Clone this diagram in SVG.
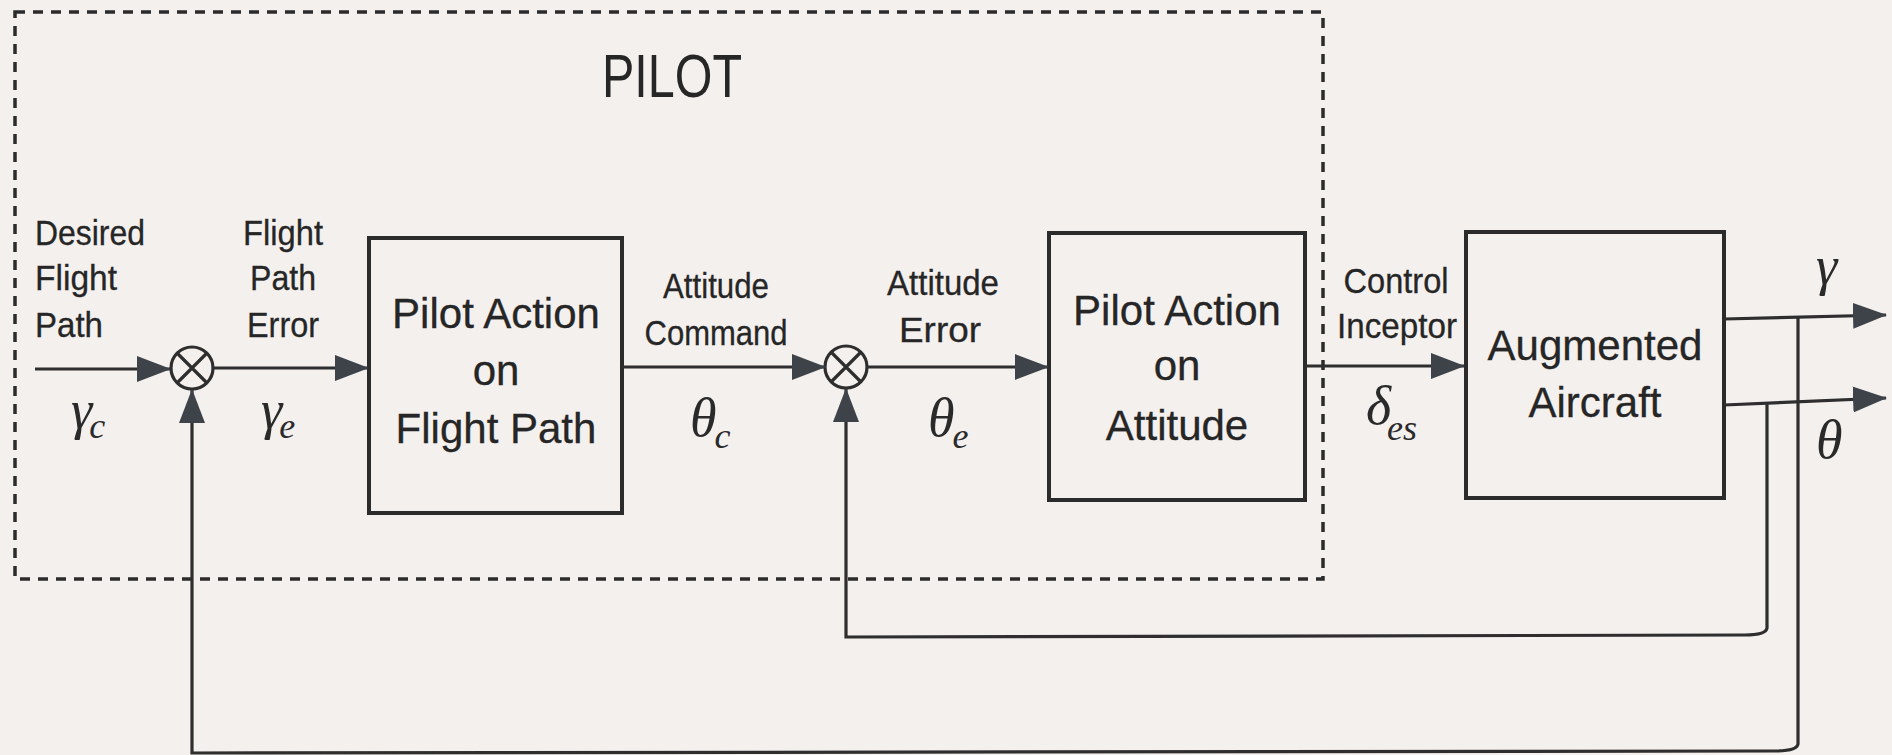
<svg xmlns="http://www.w3.org/2000/svg" width="1892" height="755" viewBox="0 0 1892 755">
<style>
.bg{fill:#f4f0ee}
.blk{fill:none;stroke:#2b2b2b;stroke-width:4}
.ln{fill:none;stroke:#2e2e2e;stroke-width:3.2}
.dash{fill:none;stroke:#2b2b2b;stroke-width:3.5;stroke-dasharray:10 8}
.lbl{font-family:"Liberation Sans",Arial,sans-serif;font-size:35px;fill:#262626;stroke:#262626;stroke-width:0.3}
.box{font-family:"Liberation Sans",Arial,sans-serif;font-size:42px;fill:#262626;stroke:#262626;stroke-width:0.3;text-anchor:middle}
.big{font-family:"Liberation Sans",Arial,sans-serif;font-size:61px;fill:#262626;text-anchor:middle}
.gr{font-family:"Liberation Serif","Times New Roman",serif;font-style:italic;font-size:54px;fill:#2a2a2a}
.sub{font-size:36px}
.mid{text-anchor:middle}
</style>
<defs>
<marker id="ah" markerUnits="userSpaceOnUse" markerWidth="34" markerHeight="26" refX="33" refY="13" orient="auto">
<path d="M0,0 L34,13 L0,26 z" fill="#3e434a"/>
</marker>
</defs>
<rect class="bg" x="0" y="0" width="1892" height="755"/>

<g id="pilot-boundary">
<rect class="dash" x="15" y="12" width="1308" height="567"/>
<text class="big" x="672" y="97" textLength="140" lengthAdjust="spacingAndGlyphs">PILOT</text>
</g>

<g id="node-sum1">
<circle class="ln" cx="192" cy="368" r="21"/>
<path class="ln" d="M177,353 L207,383 M207,353 L177,383"/>
</g>

<g id="node-sum2">
<circle class="ln" cx="846" cy="367" r="21"/>
<path class="ln" d="M831,352 L861,382 M861,352 L831,382"/>
</g>

<g id="node-flightpath">
<rect class="blk" x="369" y="238" width="253" height="275"/>
<text class="box" x="496" y="328">Pilot Action</text>
<text class="box" x="496" y="385">on</text>
<text class="box" x="496" y="443">Flight Path</text>
</g>

<g id="node-attitude">
<rect class="blk" x="1049" y="233" width="256" height="267"/>
<text class="box" x="1177" y="325">Pilot Action</text>
<text class="box" x="1177" y="380">on</text>
<text class="box" x="1177" y="440">Attitude</text>
</g>

<g id="node-aircraft">
<rect class="blk" x="1466" y="232" width="258" height="266"/>
<text class="box" x="1595" y="360">Augmented</text>
<text class="box" x="1595" y="417">Aircraft</text>
</g>

<g id="connectors">
<path class="ln" d="M35,369 L170,369" marker-end="url(#ah)"/>
<path class="ln" d="M213,368 L368,368" marker-end="url(#ah)"/>
<path class="ln" d="M622,367 L825,367" marker-end="url(#ah)"/>
<path class="ln" d="M867,367 L1048,367" marker-end="url(#ah)"/>
<path class="ln" d="M1305,366 L1464,366" marker-end="url(#ah)"/>
<path class="ln" d="M1724,319 L1886,315" marker-end="url(#ah)"/>
<path class="ln" d="M1724,405 L1886,398" marker-end="url(#ah)"/>
<path class="ln" d="M1798,317 L1798,744 Q1797,751 1775,751 L192,753 L192,390" marker-end="url(#ah)"/>
<path class="ln" d="M1767,404 L1767,628 Q1766,635 1745,635 L846,637 L846,389" marker-end="url(#ah)"/>
</g>

<g id="labels">
<text class="lbl" x="35" y="245" textLength="110" lengthAdjust="spacingAndGlyphs">Desired</text>
<text class="lbl" x="35" y="290" textLength="82" lengthAdjust="spacingAndGlyphs">Flight</text>
<text class="lbl" x="35" y="337" textLength="68" lengthAdjust="spacingAndGlyphs">Path</text>

<text class="lbl mid" x="283" y="245" textLength="80" lengthAdjust="spacingAndGlyphs">Flight</text>
<text class="lbl mid" x="283" y="290" textLength="66" lengthAdjust="spacingAndGlyphs">Path</text>
<text class="lbl mid" x="283" y="337" textLength="72" lengthAdjust="spacingAndGlyphs">Error</text>

<text class="lbl mid" x="716" y="298" textLength="106" lengthAdjust="spacingAndGlyphs">Attitude</text>
<text class="lbl mid" x="716" y="345" textLength="143" lengthAdjust="spacingAndGlyphs">Command</text>

<text class="lbl mid" x="943" y="295" textLength="112" lengthAdjust="spacingAndGlyphs">Attitude</text>
<text class="lbl mid" x="940" y="342" textLength="82" lengthAdjust="spacingAndGlyphs">Error</text>

<text class="lbl mid" x="1396" y="293" textLength="105" lengthAdjust="spacingAndGlyphs">Control</text>
<text class="lbl mid" x="1397" y="338" textLength="120" lengthAdjust="spacingAndGlyphs">Inceptor</text>

<text class="gr" x="71" y="428">γ<tspan class="sub" dx="-3" dy="10">c</tspan></text>
<text class="gr" x="261" y="428">γ<tspan class="sub" dx="-3" dy="10">e</tspan></text>
<text class="gr" x="690" y="436">θ<tspan class="sub" dx="-2" dy="12">c</tspan></text>
<text class="gr" x="928" y="436">θ<tspan class="sub" dx="-2" dy="12">e</tspan></text>
<text class="gr" x="1366" y="424">δ<tspan class="sub" dx="-4" dy="16">es</tspan></text>
<text class="gr" x="1816" y="284">γ</text>
<text class="gr" x="1816" y="458">θ</text>
</g>
</svg>
